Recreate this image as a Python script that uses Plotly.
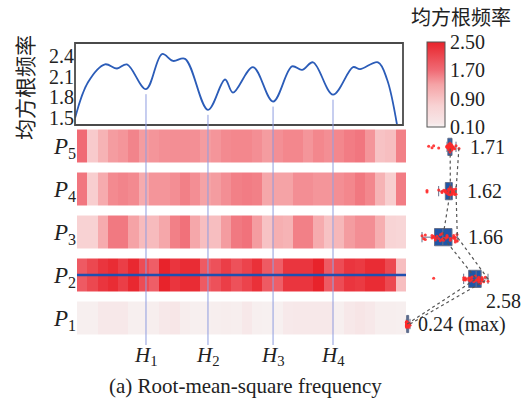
import numpy as np
import plotly.graph_objects as go

# ---- RMS frequency profile along the span (x in heat-map cell units) ----
curve_x = [-0.69, 0.57, 2.22, 3.39, 4.36, 6.21, 7.77, 8.84, 10.01, 12.24, 13.90,
           14.67, 16.62, 18.57, 20.41, 21.39, 22.46, 24.40, 26.35, 27.03, 28.78,
           29.66, 30.63]
curve_y = [1.50, 2.02, 2.28, 2.22, 2.28, 1.92, 2.43, 2.33, 2.36, 1.62, 2.06,
           1.87, 2.24, 1.74, 2.25, 2.20, 2.31, 1.84, 2.24, 2.21, 2.31,
           2.06, 1.40]
rms_ticks = [1.5, 1.8, 2.1, 2.4]
h_names = ["1", "2", "3", "4"]

# ---- RMS frequency per cell for each path (bottom P1 ... top P5) ----
row_names = ["1", "2", "3", "4", "5"]
p1 = [0.14, 0.14, 0.20, 0.20, 0.20, 0.14, 0.14, 0.15, 0.20, 0.22, 0.16, 0.14,
      0.14, 0.15, 0.16, 0.15, 0.20, 0.14, 0.13, 0.13, 0.19, 0.20, 0.20, 0.20,
      0.20, 0.14, 0.20, 0.24, 0.20, 0.15, 0.15, 0.14]
p2 = [1.90, 2.10, 2.30, 2.40, 2.20, 2.45, 2.05, 1.85, 2.58, 2.30, 2.40, 2.40,
      1.90, 2.00, 2.20, 2.00, 2.15, 2.35, 1.90, 1.85, 2.30, 2.30, 2.30, 2.50,
      1.90, 2.05, 2.30, 2.25, 2.40, 2.40, 2.10, 0.95]
p3 = [0.70, 0.70, 1.20, 1.60, 1.60, 1.30, 1.00, 1.00, 1.25, 1.55, 1.66, 1.25,
      0.95, 0.95, 1.35, 1.60, 1.65, 1.35, 0.90, 1.15, 1.10, 1.55, 1.55, 1.20,
      0.90, 1.05, 1.35, 1.45, 1.45, 1.15, 0.65, 0.60]
p4 = [1.62, 0.75, 1.20, 1.48, 1.52, 1.48, 1.20, 1.40, 1.40, 1.45, 1.55, 1.45,
      1.30, 1.35, 1.45, 1.55, 1.58, 1.55, 1.25, 1.30, 1.30, 1.45, 1.45, 1.40,
      1.40, 1.45, 1.50, 1.61, 1.50, 1.10, 0.75, 1.58]
p5 = [1.71, 0.80, 1.10, 1.35, 1.40, 1.52, 1.35, 1.40, 1.44, 1.45, 1.45, 1.44,
      1.35, 1.40, 1.48, 1.50, 1.50, 1.45, 1.35, 1.44, 1.50, 1.50, 1.40, 1.50,
      1.45, 1.50, 1.58, 1.62, 1.40, 0.90, 0.95, 1.55]
rows = [p1, p2, p3, p4, p5]
label_suffix = [" (max)", "", "", "", ""]
colorbar_ticks = [0.10, 0.90, 1.70, 2.50]

# ---- geometry helpers (figure is 528 x 400 px, no margins) ----
W, H = 528, 400
px = lambda v: v / W
py = lambda v: 1 - v / H

SERIF = "Liberation Serif"
CJK = "Noto Sans CJK SC"
INK = "#222222"

n_cells = len(p1)
heat_left, heat_right = 77, 406
cell_px = (heat_right - heat_left) / n_cells
x_dom = [px(heat_left), px(heat_right)]
x_rng = [-0.5, n_cells - 0.5]
# profile panel frame is slightly offset; keep the same cell units
frame_left, frame_right = 75, 403
line_x_dom = [px(frame_left), px(frame_right)]
line_x_rng = [-0.5 + (frame_left - heat_left) / cell_px,
              -0.5 + (frame_right - heat_left) / cell_px]
line_dom = [py(125), py(43)]
line_rng = [1.40, 2.59]
heat_dom = [py(339.5), py(124.5)]
box_dom = [px(400), 1.0]
box_rng = [-0.06, 3.78]

fig = go.Figure()

# RMS profile curve
fig.add_trace(go.Scatter(
    x=curve_x, y=curve_y, mode="lines",
    line=dict(color="#2b5cb8", width=1.8, shape="spline", smoothing=1.0),
    xaxis="x", yaxis="y", showlegend=False, hoverinfo="skip", cliponaxis=True))

# Heat map of the five paths
red_scale = [
    [0.00, "#f7f3f3"], [0.05, "#f7e6e7"], [0.25, "#f8d2d3"],
    [0.50, "#f5a3a6"], [0.67, "#f06a74"], [0.75, "#ee5a63"],
    [1.00, "#e8232b"],
]
fig.add_trace(go.Heatmap(
    z=rows, x=list(range(n_cells)), y=list(range(len(rows))),
    zmin=colorbar_ticks[0], zmax=colorbar_ticks[-1], colorscale=red_scale,
    ygap=10, xaxis="x2", yaxis="y2", hoverinfo="skip",
    colorbar=dict(
        x=px(427), xanchor="left", y=py(42), yanchor="top", xpad=0, ypad=0,
        len=(127 - 42) / H, thickness=18, outlinecolor="#555555",
        outlinewidth=1, ticks="", tickvals=colorbar_ticks,
        ticktext=[f"{t:.2f}" for t in colorbar_ticks],
        tickfont=dict(family=SERIF, size=20, color=INK)),
))

# Box plots of each path, with dotted links through medians and maxima
box_shift = [-0.14, -0.09, -0.12, -0.05, -0.02]
box_y = [i + s for i, s in enumerate(box_shift)]
medians = [float(np.median(r)) for r in rows]
maxima = [float(np.max(r)) for r in rows]
for series in (medians, maxima):
    fig.add_trace(go.Scatter(
        x=series, y=box_y, mode="lines",
        line=dict(color="#555555", width=1.2, dash="dot"),
        xaxis="x3", yaxis="y3", showlegend=False, hoverinfo="skip"))
for r, yy in zip(rows, box_y):
    fig.add_trace(go.Box(
        x=r, y=[yy] * len(r), orientation="h", width=0.4,
        fillcolor="#1f56a8", line=dict(color="#66708a", width=1),
        whiskerwidth=0.6, boxpoints="all", jitter=0.6, pointpos=0,
        marker=dict(color="#ff2a2a", size=3, opacity=0.9),
        xaxis="x3", yaxis="y3", showlegend=False, hoverinfo="skip"))

# Value labels beside each box
label_shift = [(6, 0), (-4, -22), (9, 0), (9, 0), (9, 0)]
annotations = []
for m, yy, suf, (dx, dy) in zip(maxima, box_y, label_suffix, label_shift):
    annotations.append(dict(
        x=m, y=yy, xref="x3", yref="y3", xanchor="left", yanchor="middle",
        xshift=dx, yshift=dy, showarrow=False, text=f"{m:.2f}{suf}",
        font=dict(family=SERIF, size=20, color=INK)))

# Marked dips of the profile (H1..H4): local minima with clear prominence
dips = []
for i in range(1, len(curve_y) - 1):
    if curve_y[i] < curve_y[i - 1] and curve_y[i] < curve_y[i + 1] \
            and min(curve_y[i - 1], curve_y[i + 1]) - curve_y[i] > 0.3:
        dips.append((curve_x[i], curve_y[i]))

shapes = [
    # frame around the profile panel
    dict(type="rect", xref="x domain", yref="y domain", x0=0, x1=1, y0=0, y1=1,
         line=dict(color="#4a4a4a", width=1.8), layer="above"),
]
for (dx_, dv), name in zip(dips, h_names):
    top = line_dom[0] + (dv - line_rng[0]) / (line_rng[1] - line_rng[0]) \
        * (line_dom[1] - line_dom[0]) - 5 / H
    shapes.append(dict(type="line", xref="x2", yref="paper", x0=dx_, x1=dx_,
                       y0=py(345), y1=top,
                       line=dict(color="#8f9de0", width=1)))
    annotations.append(dict(
        x=dx_, y=py(356), xref="x2", yref="paper", showarrow=False,
        xanchor="center", yanchor="middle",
        text=f"<i>H</i><sub>{name}</sub>",
        font=dict(family=SERIF, size=21, color=INK)))

# Highlight line along the strongest path
strongest = int(np.argmax([np.mean(r) for r in rows]))
shapes.append(dict(type="line", xref="x2", yref="y2", x0=x_rng[0], x1=x_rng[1],
                   y0=strongest, y1=strongest,
                   line=dict(color="#1f4fb0", width=2.5)))

# Titles and caption
annotations += [
    dict(x=px(24), y=py(88), xref="paper", yref="paper", showarrow=False,
         xanchor="center", yanchor="middle",
         text="均方根频率", textangle=-90,
         font=dict(family=CJK, size=21, color=INK)),
    dict(x=px(461), y=py(16), xref="paper", yref="paper", showarrow=False,
         xanchor="center", yanchor="middle",
         text="均方根频率", font=dict(family=CJK, size=20, color=INK)),
    dict(x=px(245), y=py(386), xref="paper", yref="paper", showarrow=False,
         xanchor="center", yanchor="middle",
         text="(a) Root-mean-square frequency",
         font=dict(family=SERIF, size=21, color=INK)),
]

fig.update_layout(
    width=W, height=H, margin=dict(l=0, r=0, t=0, b=0),
    template="none", paper_bgcolor="white", plot_bgcolor="rgba(0,0,0,0)",
    showlegend=False,
    xaxis=dict(domain=line_x_dom, range=line_x_rng, showticklabels=False,
               ticks="", showgrid=False, zeroline=False, showline=False,
               automargin=False),
    yaxis=dict(domain=line_dom, range=line_rng, tickvals=rms_ticks,
               ticktext=[f"{t:.1f}" for t in rms_ticks], ticks="",
               tickfont=dict(family=SERIF, size=20, color=INK),
               showgrid=False, zeroline=False, showline=False,
               automargin=False),
    xaxis2=dict(domain=x_dom, range=x_rng, anchor="y2", visible=False,
                automargin=False),
    yaxis2=dict(domain=heat_dom, range=[-0.5, len(rows) - 0.5], anchor="x2",
                tickvals=list(range(len(rows))),
                ticktext=[f"<i>P</i><sub>{n}</sub>" for n in row_names],
                ticks="", showgrid=False, zeroline=False, showline=False,
                tickfont=dict(family=SERIF, size=23, color=INK),
                automargin=False),
    xaxis3=dict(domain=box_dom, range=box_rng, anchor="y3", visible=False,
                automargin=False),
    yaxis3=dict(domain=heat_dom, range=[-0.5, len(rows) - 0.5], anchor="x3",
                visible=False, automargin=False),
    shapes=shapes, annotations=annotations,
)

fig.write_html("out.html")
